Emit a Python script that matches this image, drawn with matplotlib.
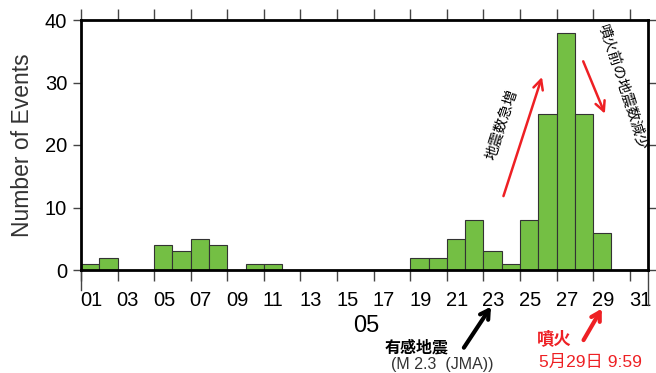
import numpy as np
import matplotlib.pyplot as plt
import matplotlib.transforms as mtransforms

# daily event counts, May 01 - May 30
days = np.arange(1, 31)
counts = [1, 2, 0, 0, 4, 3, 5, 4, 0, 1,
          1, 0, 0, 0, 0, 0, 0, 0, 2, 2,
          5, 8, 3, 1, 8, 25, 38, 25, 6, 0]
xticks = list(range(1, 32, 2))
xticklabels = [f"{d:02d}" for d in xticks]
yticks = [0, 10, 20, 30, 40]

JP = ['Liberation Sans', 'Noto Sans CJK JP']
RED = '#ee2024'
W, H = 656, 373

plt.rcParams['font.family'] = JP

fig = plt.figure(figsize=(6.56, 3.73), dpi=100)
ax = fig.add_axes([81 / W, 1 - 270 / H, 567 / W, 250 / H])

ax.bar(days, counts, width=1.0, align='edge', color='#74bf44',
       edgecolor='#333333', linewidth=0.8, zorder=2)

ax.set_xlim(1, 32)
ax.set_ylim(0, 40)
ax.set_xticks(xticks)
ax.set_xticklabels(xticklabels, ha='left')
ax.set_yticks(yticks)

for s in ax.spines.values():
    s.set_linewidth(2.0)
    s.set_zorder(3)

ax.tick_params(axis='x', which='both', direction='out', length=8, width=1.0,
               top=True, bottom=True, labelsize=14.5, pad=7, colors='#444444',
               labelcolor='black')
ax.tick_params(axis='y', direction='out', length=6, width=1.0,
               left=True, right=True, labelsize=14.5, pad=4, colors='#444444',
               labelcolor='black')
# labels sit just to the right of their tick
offset = mtransforms.ScaledTranslation(-1 / 100, 0, fig.dpi_scale_trans)
for lab in ax.get_xticklabels():
    lab.set_transform(lab.get_transform() + offset)

# month boundary marks below the frame
trans = mtransforms.blended_transform_factory(ax.transData, ax.transAxes)
ax.plot([1, 1], [0, -0.08], transform=trans, color='#444444', lw=1, clip_on=False)
ax.plot([32, 32], [0, -0.14], transform=trans, color='#444444', lw=1, clip_on=False)

ax.set_ylabel('Number of Events', fontsize=16.5, color='#333333', labelpad=8)

fig.text(366 / W, 1 - 326 / H, '05', fontsize=17, ha='center', va='center')

# red arrows inside the plot
arrow_red = dict(arrowstyle='->,head_length=0.7,head_width=0.35', color=RED, lw=1.8)
ax.annotate('', xy=(26.25, 31.3), xytext=(24.05, 11.4), arrowprops=arrow_red)
ax.annotate('', xy=(29.7, 24.6), xytext=(28.4, 33.8), arrowprops=arrow_red)
ax.text(24.02, 23.2, '地震数急増', rotation=72, fontsize=10.5,
        ha='center', va='center', family=JP)
ax.text(30.58, 29.1, '噴火前の地震数減少', rotation=-72, fontsize=10.5,
        ha='center', va='center', family=JP)

# arrows below the axis
ax.annotate('', xy=(23.5, -5.5), xytext=(21.85, -12.8),
            arrowprops=dict(arrowstyle='->,head_length=0.6,head_width=0.35',
                            color='black', lw=3),
            annotation_clip=False)
ax.annotate('', xy=(29.55, -5.8), xytext=(28.4, -11.6),
            arrowprops=dict(arrowstyle='->,head_length=0.6,head_width=0.35',
                            color=RED, lw=3),
            annotation_clip=False)

fig.text(417 / W, 1 - 348 / H, '有感地震', fontsize=11.5, fontweight='bold',
         ha='center', va='center', family=JP)
fig.text(442 / W, 1 - 365 / H, '(M 2.3  (JMA))', fontsize=11.5, color='#333333',
         ha='center', va='center', family=JP)
fig.text(554 / W, 1 - 339 / H, '噴火', fontsize=12.5, fontweight='bold', color=RED,
         ha='center', va='center', family=JP)
fig.text(590 / W, 1 - 362 / H, '5月29日 9:59', fontsize=12.5, color=RED,
         ha='center', va='center', family=JP)

fig.savefig('out.png', dpi=100)
